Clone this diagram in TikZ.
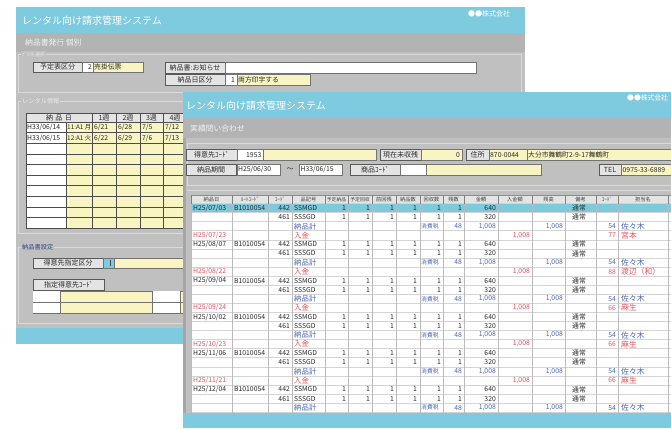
\documentclass[tikz,border=0pt]{standalone}
\usepackage{fontspec}
\setmainfont{Noto Sans CJK JP}
\definecolor{tblue}{HTML}{7ECBDF}
\definecolor{subgray}{HTML}{B3B3B3}
\definecolor{bodygray}{HTML}{C0C0C0}
\definecolor{fyellow}{HTML}{F8F5C2}
\definecolor{bgray}{HTML}{E4E4E4}
\definecolor{rowblue}{HTML}{7CCADB}
\definecolor{gridg}{HTML}{D4D4D4}
\definecolor{colg}{HTML}{BBBBBB}
\definecolor{redt}{HTML}{E8505A}
\definecolor{bluet}{HTML}{4A66B8}
\definecolor{darkt}{HTML}{2A2A2A}
\definecolor{framel}{HTML}{DADADA}
\definecolor{stripg}{HTML}{A6A6A6}
\tikzset{
  btn/.style={draw=black!65, fill=bgray, line width=0.7pt},
  fld/.style={draw=black!55, fill=white, line width=0.6pt},
  yfld/.style={draw=black!55, fill=fyellow, line width=0.6pt},
  bfld/.style={draw=black!55, fill=tblue, line width=0.6pt},
  frm/.style={draw=framel, line width=0.8pt},
  txt/.style={inner sep=0pt, font=\fontsize{7}{7}\selectfont, text=darkt},
  ttl/.style={inner sep=0pt, anchor=west, font=\fontsize{10}{10}\selectfont, text=white},
  subt/.style={inner sep=0pt, anchor=west, font=\fontsize{7.8}{8}\selectfont, text=white!95!black},
  corp/.style={inner sep=0pt, anchor=west, font=\fontsize{7}{7}\selectfont, text=white},
  grp/.style={inner sep=1pt, anchor=west, fill=bodygray, font=\fontsize{6.2}{6.5}\selectfont, text=white!92!black},
  lt/.style={inner sep=0pt, anchor=west, font=\fontsize{6.8}{7}\selectfont, text=darkt},
  rt/.style={inner sep=0pt, anchor=east, font=\fontsize{6.8}{7}\selectfont, text=darkt},
  nm/.style={inner sep=0pt, anchor=west, font=\fontsize{7.8}{8}\selectfont, text=darkt},
  jp/.style={inner sep=0pt, anchor=west, font=\fontsize{7.4}{7.5}\selectfont, text=darkt},
  hd/.style={inner sep=0pt, font=\fontsize{5.2}{5.5}\selectfont, text=black!75},
}
\newcommand\btnbox[5]{%
  \draw[btn] (#1,#2) rectangle (#3,#4);
  \node[txt] at ({(#1+#3)/2},{(#2+#4)/2+0.3}) {#5};}
\newcommand\delivrows[2]{%
  \pgfmathsetmacro\ya{208.1+#1*9.07}%
  \pgfmathsetmacro\yb{\ya+9.07}%
  \pgfmathsetmacro\yc{\ya+18.14}%
  \node[lt] at (193,\ya) {#2};
  \node[lt] at (234,\ya) {B1010054};
  \node[rt] at (290,\ya) {442};
  \node[lt] at (294,\ya) {SSMGD};
  \foreach \xx in {346,370,394,417,441,462} {\node[rt] at (\xx,\ya) {1}; \node[rt] at (\xx,\yb) {1};}
  \node[rt] at (496,\ya) {640};
  \node[lt] at (572,\ya) {通常};
  \node[rt] at (290,\yb) {461};
  \node[lt] at (294,\yb) {SSSGD};
  \node[rt] at (496,\yb) {320};
  \node[lt] at (572,\yb) {通常};
  \node[jp,text=bluet] at (294,\yc) {納品計};
  \node[lt,text=bluet,font=\fontsize{5.8}{6}\selectfont] at (421,\yc) {消費税};
  \node[rt,text=bluet] at (462,\yc) {48};
  \node[rt,text=bluet] at (496,\yc) {1,008};
  \node[rt,text=bluet] at (563,\yc) {1,008};
  \node[rt,text=bluet] at (616,\yc) {54};
  \node[nm,text=bluet] at (621,\yc) {佐々木};
}
\newcommand\payrow[4]{%
  \pgfmathsetmacro\ya{208.1+#1*9.07}%
  \node[lt,text=redt] at (193,\ya) {#2};
  \node[jp,text=redt] at (294,\ya) {入金};
  \node[rt,text=redt] at (530,\ya) {1,008};
  \node[rt,text=redt] at (616,\ya) {#3};
  \node[nm,text=redt] at (621,\ya) {#4};
}
\begin{document}
\begin{tikzpicture}[x=1pt,y=-1pt]
\useasboundingbox (0,0) rectangle (671,428);
\clip (0,0) rectangle (671,428);
\fill[white] (0,0) rectangle (671,428);

% ================= back window =================
\fill[tblue] (16,7) rectangle (525,33);
\fill[subgray] (16,33) rectangle (525,52);
\fill[bodygray] (16,52) rectangle (525,328);
\fill[tblue] (16,328) rectangle (525,344);
\node[ttl] (btitle) at (22,20.5) {レンタル向け請求管理システム};
\node[corp] (bcorp) at (468,14) {●●株式会社};
\node[subt] (bsub) at (25,43) {納品書発行 個別};

% group 1
\draw[frm] (18,54.5) rectangle (521,92);
\node[grp,font=\fontsize{4.5}{5}\selectfont] (g1) at (21,54.5) {ﾌﾟﾘﾝﾀｰ選択};
\btnbox{33}{62}{82}{72}{予定表区分}
\draw[fld] (82,62) rectangle (93,72);
\node[rt] at (92,67.3) {2};
\draw[yfld] (93,62) rectangle (143,72);
\node[lt] at (94,67.3) {売掛伝票};
\btnbox{165}{62}{225}{73}{納品書:お知らせ}
\draw[fld] (225,62) rectangle (476,73);
\btnbox{165}{74}{225}{85}{納品日区分}
\draw[fld] (225,74) rectangle (237,85);
\node[rt] at (235,79.8) {1};
\draw[yfld] (237,74) rectangle (310,85);
\node[lt] at (238,79.8) {両方印字する};

% group 2
\draw[frm] (18,101) rectangle (540,233);
\node[grp] (g2) at (21,101) {レンタル情報};
\fill[bgray] (26,113) rectangle (190,122);
\fill[white] (26,122) rectangle (66,228);
\fill[fyellow] (66,122) rectangle (190,228);
\foreach \k in {0,...,10} {\draw[black!70, line width=0.5pt] (26,{122+\k*10.6}) -- (190,{122+\k*10.6});}
\draw[black!70, line width=0.5pt] (26,113) -- (190,113);
\draw[black!70, line width=0.5pt] (26,113) -- (26,228);
\draw[black!70, line width=0.5pt] (66,122) -- (66,228);
\foreach \xx in {92,116,140,163,187} {\draw[black!70, line width=0.5pt] (\xx,113) -- (\xx,228);}
\node[txt] at (59,117.8) {納\,\,品\,\,日};
\node[txt] at (104,117.8) {1週};
\node[txt] at (128,117.8) {2週};
\node[txt] at (151.5,117.8) {3週};
\node[txt] at (175,117.8) {4週};
\node[lt] at (27,127.5) {H33/06/14};
\node[lt,font=\fontsize{6.4}{7}\selectfont] at (67,127.5) {11:A1 月};
\node[lt] at (94,127.5) {6/21};
\node[lt] at (118,127.5) {6/28};
\node[lt] at (142,127.5) {7/5};
\node[lt] at (165,127.5) {7/12};
\node[lt] at (27,138) {H33/06/15};
\node[lt,font=\fontsize{6.4}{7}\selectfont] at (67,138) {12:A1 火};
\node[lt] at (94,138) {6/22};
\node[lt] at (118,138) {6/29};
\node[lt] at (142,138) {7/6};
\node[lt] at (165,138) {7/13};

% group 3
\draw[frm] (18,247.5) rectangle (540,323);
\node[grp,text=bluet!70!black] (g3) at (21,247.5) {納品書設定};
\btnbox{33}{258}{103}{268}{得意先指定区分}
\draw[bfld] (103,258) rectangle (114,268);
\draw[black!70] (110,260) -- (110,266);
\draw[yfld] (114,258) rectangle (190,268);
\btnbox{33}{279}{104}{290}{指定得意先ｺｰﾄﾞ}
\draw[yfld] (33,291) rectangle (190,313);
\fill[white] (33.3,291.3) rectangle (60,312.7);
\fill[white] (152,291.3) rectangle (180,312.7);
\draw[black!55, line width=0.6pt] (33,302) -- (190,302);
\draw[black!55, line width=0.6pt] (60,291) -- (60,313);
\draw[black!55, line width=0.6pt] (152,291) -- (152,313);
\draw[black!55, line width=0.6pt] (180,291) -- (180,313);

% ================= front window =================
\fill[tblue] (183,92) rectangle (671,118);
\fill[subgray] (183,118) rectangle (671,138);
\fill[bodygray] (183,138) rectangle (671,413);
\fill[stripg] (183,138) rectangle (185.5,413);
\node[ttl] (ftitle) at (186,105.5) {レンタル向け請求管理システム};
\node[corp,font=\fontsize{6.8}{7}\selectfont] (fcorp) at (627,98) {●●株式会社};
\node[subt] (fsub) at (190,128.5) {実績問い合わせ};

\draw[frm] (187,143) rectangle (690,185);
\btnbox{186}{149}{237}{160}{得意先ｺｰﾄﾞ}
\draw[fld] (237,149) rectangle (263,160);
\node[rt] at (261.5,154.8) {1953};
\draw[yfld] (263,149) rectangle (376,160);
\btnbox{380}{149}{421}{160}{現在未収残}
\draw[yfld] (421,149) rectangle (462,160);
\node[rt] at (460,154.8) {0};
\btnbox{466}{149}{489}{160}{住所}
\draw[yfld] (489,149) rectangle (527,160);
\node[lt] at (490,154.8) {870-0044};
\draw[yfld] (527,149) rectangle (690,160);
\node[lt] at (528,154.8) {大分市舞鶴町2-9-17舞鶴町};

\btnbox{186}{164}{236}{175}{納品期間}
\draw[fld] (237,164) rectangle (280,175);
\node[lt] at (238,169.8) {H25/06/30};
\node[txt] (tilde) at (290,169.8) {～};
\draw[fld] (299,164) rectangle (342,175);
\node[lt] at (300.5,169.8) {H33/06/15};
\btnbox{350}{164}{400}{175}{商品ｺｰﾄﾞ}
\draw[fld] (400,164) rectangle (426,175);
\draw[yfld] (426,164) rectangle (541,175);
\btnbox{599}{164}{621}{175}{TEL}
\draw[yfld] (621,164) rectangle (690,175);
\node[lt] at (622.5,169.8) {0975-33-6889};

% table
\draw[frm] (187,190) -- (690,190);
\fill[white] (191,195) rectangle (671,413);
\fill[bgray] (191,195) rectangle (671,203.5);
\fill[rowblue] (191,203.5) rectangle (671,212.57);
\foreach \k in {0,...,23} {\draw[gridg, line width=0.5pt] (191,{203.5+\k*9.07}) -- (671,{203.5+\k*9.07});}
\draw[black!45, line width=0.5pt] (191,195) -- (671,195);
\foreach \xx in {191,232,268,292,325,348,372,396,420,443,464,498,532,565,596,618,668}
  {\draw[colg, line width=0.5pt] (\xx,203.5) -- (\xx,413);
   \draw[black!50, line width=0.5pt] (\xx,195) -- (\xx,203.5);}
\node[hd] at (211.5,199.3) {納品日};
\node[hd] at (250,199.3) {ﾙｰﾄｺｰﾄﾞ};
\node[hd] at (280,199.3) {ｺｰﾄﾞ};
\node[hd] at (308.5,199.3) {品記号};
\node[hd,font=\fontsize{4.8}{5}\selectfont] at (336.5,199.3) {予定納品};
\node[hd,font=\fontsize{4.8}{5}\selectfont] at (360,199.3) {予定回収};
\node[hd] at (384,199.3) {前回残};
\node[hd] at (408,199.3) {納品数};
\node[hd] at (431.5,199.3) {回収数};
\node[hd] at (453.5,199.3) {残数};
\node[hd] at (481,199.3) {金額};
\node[hd] at (515,199.3) {入金額};
\node[hd] at (548.5,199.3) {残高};
\node[hd] at (580.5,199.3) {備考};
\node[hd] at (607,199.3) {ｺｰﾄﾞ};
\node[hd] at (643,199.3) {担当名};

\delivrows{0}{H25/07/03}
\payrow{3}{H25/07/23}{77}{宮本}
\delivrows{4}{H25/08/07}
\payrow{7}{H25/08/22}{88}{渡辺（和）}
\delivrows{8}{H25/09/04}
\payrow{11}{H25/09/24}{66}{麻生}
\delivrows{12}{H25/10/02}
\payrow{15}{H25/10/23}{66}{麻生}
\delivrows{16}{H25/11/06}
\payrow{19}{H25/11/21}{66}{麻生}
\delivrows{20}{H25/12/04}

\fill[tblue] (183,413) rectangle (671,428);
\end{tikzpicture}
\end{document}
